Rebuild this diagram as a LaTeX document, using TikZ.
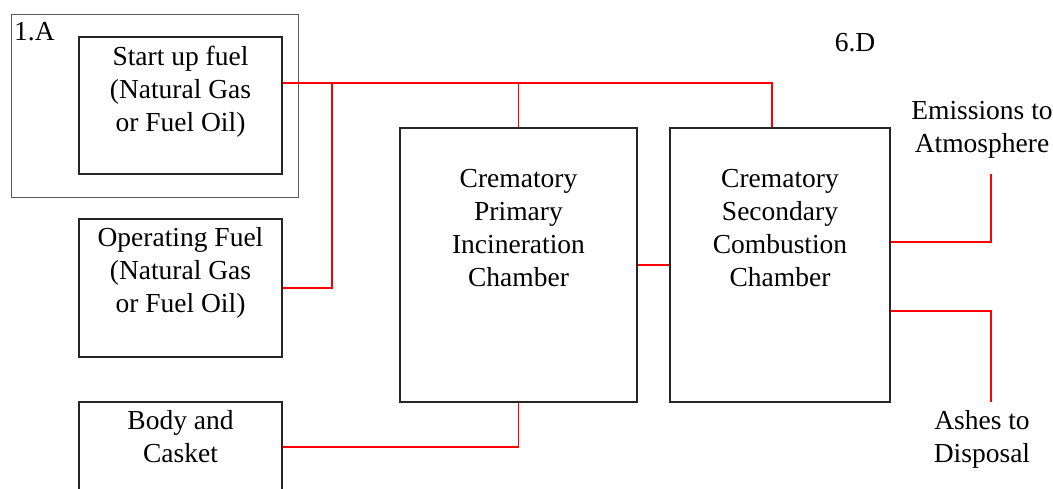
\documentclass[tikz,border=0pt]{standalone}
\usepackage{fontspec}
\setmainfont{Liberation Serif}
\begin{document}
\begin{tikzpicture}[x=1pt,y=-1pt,
  box/.style={draw=black!85,line width=1.3pt,inner sep=0pt},
  txt/.style={font=\fontsize{27.5}{33}\selectfont,align=center,inner sep=0pt,anchor=north},
  conn/.style={draw=red,line width=1.4pt}]
\useasboundingbox (0,0) rectangle (1053,488);
\clip (0,0) rectangle (1053,488);
% boxes
\node[box,draw=black!65,line width=1pt,minimum width=287pt,minimum height=183pt] (outerA) at (154.5,105.5) {};
\node[box,minimum width=203pt,minimum height=137pt] (start) at (180.5,105.5) {};
\node[box,minimum width=203pt,minimum height=138pt] (op) at (180.5,288) {};
\node[box,minimum width=203pt,minimum height=137pt] (body) at (180.5,470.5) {};
\node[box,minimum width=237pt,minimum height=274pt] (prim) at (518.5,265) {};
\node[box,minimum width=220pt,minimum height=274pt] (sec) at (780,265) {};
% texts
\node[txt] (startT) at (180.5,46) {Start up fuel\\(Natural Gas\\or Fuel Oil)};
\node[txt] (opT) at (180.5,227.5) {Operating Fuel\\(Natural Gas\\or Fuel Oil)};
\node[txt] (bodyT) at (180.5,410.5) {Body and\\Casket};
\node[txt] (primT) at (518.5,169.5) {Crematory\\Primary\\Incineration\\Chamber};
\node[txt] (secT) at (780,169.5) {Crematory\\Secondary\\Combustion\\Chamber};
\node[txt] (emis) at (982,101.5) {Emissions to\\Atmosphere};
\node[txt] (ash) at (982,410) {Ashes to\\Disposal};
\node[txt] (labD) at (855,33.5) {6.D};
\node[txt,anchor=north west] (labA) at (14,22.5) {1.A};
% connectors
\coordinate (jA) at (332,83);
\coordinate (jS) at (772,83);
\draw[conn] (start.east |- jA) -- (jS) -- (jS |- sec.north);
\draw[conn] (prim.north |- jA) -- (prim.north);
\draw[conn] (jA) |- (op.east);
\draw[conn] (prim.east) -- (sec.west);
\coordinate (jB) at (518,447);
\draw[conn] (prim.south) |- (body.east |- jB);
\coordinate (eTop) at (991,174);
\draw[conn] (sec.east |- 0,242) -| (eTop);
\coordinate (aBot) at (991,402);
\draw[conn] (sec.east |- 0,311) -| (aBot);
\end{tikzpicture}
\end{document}
